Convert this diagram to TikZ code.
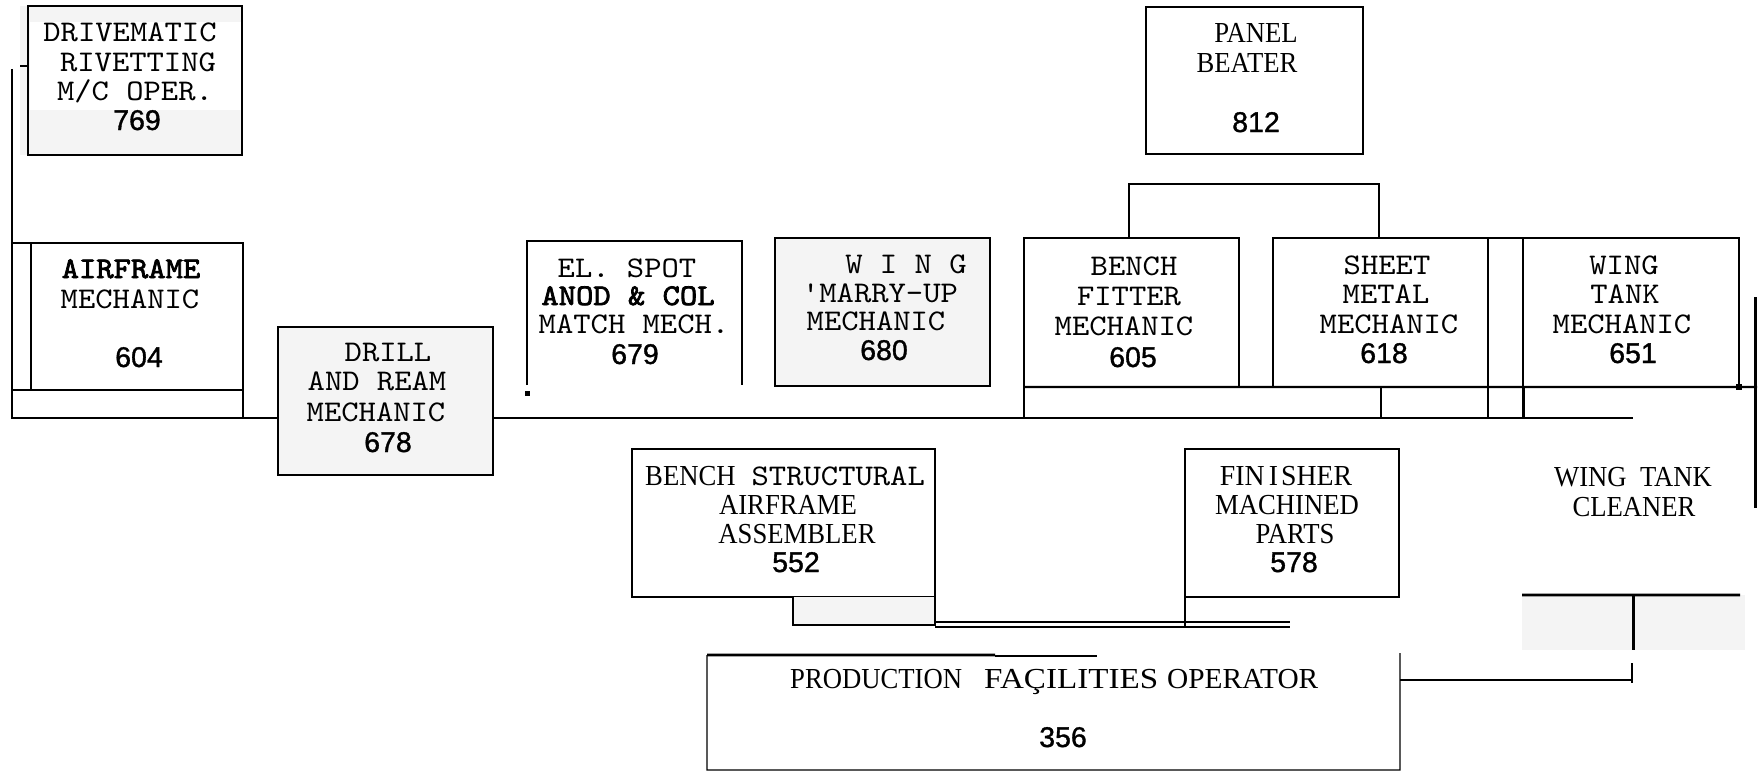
\documentclass[tikz,border=0pt]{standalone}
\usepackage{fontspec}
\usepackage{graphicx}
\newfontfamily\monof{lmmono10-regular.otf}[FakeStretch=1.1]
\newfontfamily\monobf{lmmono10-regular.otf}[FakeStretch=1.1,FakeBold=2.5]
\newfontfamily\serf{Liberation Serif}[FakeStretch=0.92]
\newfontfamily\numf{Liberation Sans}[FakeBold=1.2]
\newcommand\mtext[1]{{\monof\fontsize{30bp}{31bp}\selectfont #1}}
\definecolor{boxgray}{RGB}{244,244,244}
\tikzset{
 box/.style={draw, line width=2.4bp, inner sep=0, outer sep=0},
 gbox/.style={box, fill=boxgray},
 ln/.style={line width=2.4bp},
 thinln/.style={line width=1.4bp},
 mono/.style={font=\monof\fontsize{30bp}{31bp}\selectfont, inner sep=0, anchor=base},
 monob/.style={font=\monobf\fontsize{30bp}{31bp}\selectfont, inner sep=0, anchor=base},
 ser/.style={font=\serf\fontsize{29bp}{30bp}\selectfont, inner sep=0, anchor=base},
 num/.style={font=\numf\fontsize{28.5bp}{30bp}\selectfont, inner sep=0, anchor=base},
}
\begin{document}
\begin{tikzpicture}[x=1bp,y=-1bp]
\useasboundingbox (0,0) rectangle (1759,771);
% ---------- boxes ----------
\node[gbox, minimum width=214bp, minimum height=149bp] (drive) at (135,80.5) {};
\fill[white] (29.5,22) rectangle (240.8,110);
\fill[boxgray] (20,6) rectangle (26.8,155);
\node[box, fill=none, minimum width=214bp, minimum height=149bp] (drive2) at (135,80.5) {};
\node[box, minimum width=212bp, minimum height=147bp] (airframe) at (137,316.5) {};
\node[gbox, minimum width=215bp, minimum height=148bp] (drill) at (385.5,401) {};
\node[inner sep=0, outer sep=0, minimum width=215bp, minimum height=144bp] (elspot) at (634.5,313) {};
\node[gbox, minimum width=215bp, minimum height=148bp] (wing) at (882.5,312) {};
\node[box, minimum width=217bp, minimum height=147bp] (panel) at (1254.5,80.5) {};
\node[box, minimum width=215bp, minimum height=149bp] (fitter) at (1131.5,312.5) {};
\node[box, minimum width=215bp, minimum height=149bp] (sheet) at (1380.5,312.5) {};
\node[box, minimum width=216bp, minimum height=149bp] (wtank) at (1631,312.5) {};
\node[box, minimum width=303bp, minimum height=148bp] (bstruct) at (783.5,523) {};
\node[box, line width=1.8bp, minimum width=214bp, minimum height=148bp] (finisher) at (1292,523) {};
\node[inner sep=0, outer sep=0, minimum width=693bp, minimum height=115bp] (prod) at (1053.5,712.5) {};
\node[fill=boxgray, inner sep=0, outer sep=0, minimum width=142bp, minimum height=28bp] (under) at (864,611) {};
\node[fill=boxgray, inner sep=0, outer sep=0, minimum width=223bp, minimum height=55bp] (cleanbox) at (1633.5,622.5) {};
% ---------- coordinates ----------
\coordinate (lt) at (12,69);
\coordinate (lb) at (12,418);
\coordinate (mainend) at (1633,418);
\coordinate (brL) at (1129,238);
\coordinate (brR) at (1379,238);
\coordinate (rtop) at (1755,297);
\coordinate (rbot) at (1755,508);
\coordinate (barend) at (1757,387);
\coordinate (midv) at (1381,387);
\coordinate (dblend) at (1290,622);
\coordinate (ptick) at (1632,680);
% ---------- connectors ----------
\draw[ln] (lt) -- (lb) -- (drill.west |- lb);
\draw[ln] (drill.east |- lb) -- (mainend);
\draw[ln] (20,66) -- (drive.west |- 0,66);
\draw[ln] (lb |- airframe.north) -- (airframe.north west);
\draw[ln] (lb |- airframe.south) -- (airframe.south west);
\draw[ln] (airframe.south east) -- (airframe.east |- lb);
\draw[ln] (elspot.south west) |- (elspot.north east) -- (elspot.south east);
\fill (525,391) rectangle (529.5,395.5);
\draw[ln] (brL) -- ++(0,-54) -| (brR);
\draw[ln] (sheet.north east) -- (wtank.north west);
\draw[ln] (fitter.south west) -- (barend);
\draw[ln] (fitter.south west) -- (fitter.west |- lb);
\draw[ln] (midv) -- (midv |- lb);
\draw[ln] (sheet.south east) -- (sheet.east |- lb);
\draw[line width=3bp] (wtank.south west) -- (wtank.west |- lb);
\draw[line width=3bp] (rtop) -- (rbot);
\fill (1736,384) rectangle (1742,390);
% lower part
\draw[thinln] (under.north west) -- (under.south west) -- (under.south east) -- (under.north east);
\draw[ln] (under.south east |- dblend) -- (dblend);
\draw[ln] (under.south east |- 0,627) -- (dblend |- 0,627);
\draw[ln] (finisher.south west) -- (finisher.west |- 0,627);
\draw[thinln] (prod.north west) -- (prod.south west) -- (prod.south east) -- (1400,653);
\draw[line width=2.8bp] (prod.north west) -- (995,655);
\draw[thinln] (995,656) -- (1097,656);
\draw[ln] (prod.east |- ptick) -- (ptick);
\draw[thinln] (1632,663) -- (1632,683);
\draw[line width=2.8bp] (cleanbox.north west) -- (1740,595);
\draw[line width=2.6bp] (cleanbox.north |- 0,595) -- (cleanbox.south);
% ---------- texts ----------
\node[mono] (t1a) at (130,42) {DRIVEMATIC};
\node[mono] (t1b) at (138,72) {RIVETTING};
\node[mono] (t1c) at (135,100) {M/C OPER.};
\node[num] (t1d) at (137,130) {769};
\node[monob] (t2a) at (131,278) {AIRFRAME};
\node[mono] (t2b) at (130,308) {MECHANIC};
\node[num] (t2c) at (139,367) {604};
\node[mono] (t3a) at (388,361) {DRILL};
\node[mono] (t3b) at (377,390) {AND REAM};
\node[mono] (t3c) at (376,421) {MECHANIC};
\node[num] (t3d) at (388,452) {678};
\node[mono] (t4a) at (627,277) {EL. SPOT};
\node[monob] (t4b) at (628,305) {ANOD \& COL};
\node[mono] (t4c) at (634,333) {MATCH MECH.};
\node[num] (t4d) at (635,364) {679};
\node[mono] (t5a) at (906,273) {W I N G};
\node[mono] (t5b) at (880,302) {'MARRY-UP};
\node[mono] (t5c) at (876,330) {MECHANIC};
\node[num] (t5d) at (884,360) {680};
\node[ser] (t6a) at (1256,43) {PANEL};
\node[ser] (t6b) at (1247,73) {BEATER};
\node[num] (t6c) at (1256,132) {812};
\node[mono] (t7a) at (1134,275) {BENCH};
\node[mono] (t7b) at (1129,305) {FITTER};
\node[mono] (t7c) at (1124,335) {MECHANIC};
\node[num] (t7d) at (1133,367) {605};
\node[mono] (t8a) at (1387,274) {SHEET};
\node[mono] (t8b) at (1386,303) {METAL};
\node[mono] (t8c) at (1389,333) {MECHANIC};
\node[num] (t8d) at (1384,363) {618};
\node[mono] (t9a) at (1624,274) {WING};
\node[mono] (t9b) at (1625,303) {TANK};
\node[mono] (t9c) at (1622,333) {MECHANIC};
\node[num] (t9d) at (1633,363) {651};
\node[ser, anchor=base west] (t10a) at (645,485) {BENCH\hspace{16bp}\mtext{STRUCTURAL}};
\node[ser] (t10b) at (788,514) {AIRFRAME};
\node[ser] (t10c) at (797,543) {ASSEMBLER};
\node[num] (t10d) at (796,572) {552};
\node[ser] (t11a) at (1286,485) {\scalebox{1.04}[1]{FIN\hspace{4bp}I\hspace{3bp}SHER}};
\node[ser] (t11b) at (1287,514) {MACHINED};
\node[ser] (t11c) at (1295,543) {PARTS};
\node[num] (t11d) at (1294,572) {578};
\node[ser, anchor=base west] (t12a) at (790,688) {PRODUCTION\hspace{22bp}\scalebox{1.24}[1]{FAÇILITIES}\hspace{9bp}\scalebox{1.1}[1]{OPERATOR}};
\node[num] (t12b) at (1063,747) {356};
\node[ser] (t13a) at (1633,486) {WING\ \ TANK};
\node[ser] (t13b) at (1634,516) {CLEANER};
\end{tikzpicture}
\end{document}
